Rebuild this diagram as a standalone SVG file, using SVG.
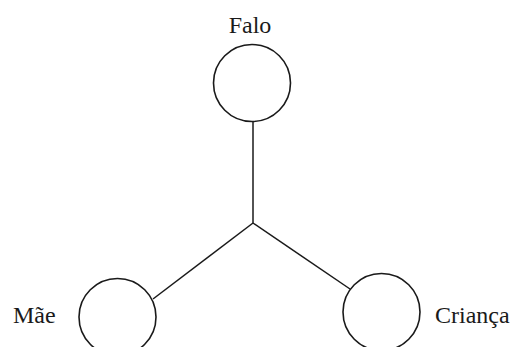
<svg xmlns="http://www.w3.org/2000/svg" width="515" height="347" viewBox="0 0 515 347">
  <style>
    .node { fill: #ffffff; stroke: #1a1a1a; stroke-width: 1.6; }
    .edge { stroke: #1a1a1a; stroke-width: 1.5; fill: none; }
    .label { font-family: "Liberation Serif", "Times New Roman", serif; font-size: 24px; fill: #1a1a1a; }
  </style>
  <rect width="515" height="347" fill="#ffffff"/>
  <g id="connectors">
    <line class="edge" x1="253" y1="121" x2="253" y2="223"/>
    <line class="edge" x1="253" y1="223" x2="153" y2="299"/>
    <line class="edge" x1="253" y1="223" x2="350" y2="289"/>
  </g>
  <g id="falo">
    <circle class="node" cx="252" cy="83" r="38.5"/>
    <text class="label" x="250" y="33" text-anchor="middle">Falo</text>
  </g>
  <g id="mae">
    <circle class="node" cx="117.5" cy="317" r="38.5"/>
    <text class="label" x="13" y="323">Mãe</text>
  </g>
  <g id="crianca">
    <circle class="node" cx="381.5" cy="312" r="38.5"/>
    <text class="label" x="435" y="323">Criança</text>
  </g>
</svg>
